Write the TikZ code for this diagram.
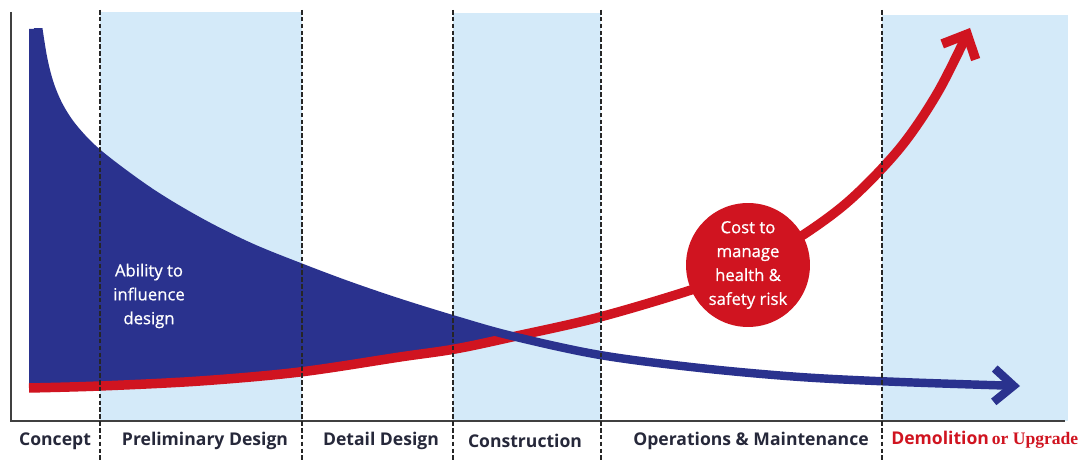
\documentclass[tikz,border=0pt]{standalone}
\usepackage{fontspec}
\setmainfont{Open Sans}
\newfontfamily\serifface{Liberation Serif}
\newfontfamily\semibold[FakeBold=0.7]{Open Sans}
\usetikzlibrary{arrows.meta}
\definecolor{navy}{RGB}{42,50,142}
\definecolor{riskred}{RGB}{208,20,32}
\definecolor{shade}{RGB}{212,234,249}
\definecolor{labelc}{RGB}{38,40,58}
\tikzset{
  phase/.style={fill=shade},
  divider/.style={black!85, line width=1.1pt, dash pattern=on 2.6pt off 1.3pt},
  axisline/.style={draw=black!75, line width=1.1pt},
  phaselabel/.style={font=\fontsize{10}{11}\selectfont\bfseries, text=labelc, anchor=center, inner sep=0pt},
  bluecurve/.style={navy, line width=4.8pt, -{Straight Barb[length=11pt, width=19pt]}},
  redcurve/.style={riskred, line width=5.4pt, -{Straight Barb[length=11pt, width=21pt]}},
  costbubble/.style={circle, fill=riskred, minimum size=2.48cm, inner sep=0pt, text=white, align=center,
    font=\semibold\fontsize{9.5}{13.6}\selectfont},
  abilitytext/.style={text=white, align=center, font=\semibold\fontsize{9.5}{13.6}\selectfont, inner sep=0pt}
}
\begin{document}
\begin{tikzpicture}[x=0.02cm, y=-0.02cm]
  \useasboundingbox (0,0) rectangle (1083,462);
  \fill[white] (0,0) rectangle (1083,462);
  % shaded phases
  \fill[phase] (100,12) rectangle (302,421);
  \fill[phase] (453,13) rectangle (601,421);
  \fill[phase] (882,15) rectangle (1068,421);
  % axes
  \coordinate (origin) at (11,421);
  \coordinate (ytop) at (11,12);
  \coordinate (xend) at (1065,421);
  \draw[axisline] (ytop) -- (origin) -- (xend);
  % blue filled area: ability to influence design
  \fill[navy] (29,29) -- (38,29) -- plot[smooth, tension=0.55] coordinates {(39,29) (43,58) (50,85) (60,108) (75,130) (100,155) (150,192) (200,222) (250,247) (302,268) (350,286) (400,303) (455,320) (512,336)}
    -- plot[smooth, tension=0.55] coordinates {(512,337) (455,349) (400,357) (300,372) (200,381) (100,386) (33,388)}
    -- (29,390) -- cycle;
  % red curve: cost to manage health & safety risk
  \draw[redcurve] plot[smooth, tension=0.55] coordinates {(29,388) (100,386) (200,381) (300,372) (400,357) (455,349) (512,337) (600,317) (700,287) (748,266) (800,237) (850,200) (900,148) (938,92) (970,28)};
  % blue curve
  \begin{scope}
    \clip (0,29) rectangle (1083,462);
    \draw[bluecurve] plot[smooth, tension=0.55] coordinates {(37,20) (43,58) (50,85) (60,108) (75,130) (100,155) (150,192) (200,222) (250,247) (302,268) (350,286) (400,303) (455,320) (512,336) (600,355) (700,368) (800,377) (900,382) (1020,386)};
  \end{scope}
  % dividers
  \foreach \xx/\nm in {100/d1, 302/d2, 453/d3, 601/d4, 882/d5}{
    \coordinate (\nm top) at (\xx,10);
    \coordinate (\nm bot) at (\xx,462);
    \draw[divider] (\nm top) -- (\nm bot);
  }
  % bubble
  \node[costbubble] (cost) at (748,265) {Cost to\\manage\\health \&\\safety risk};
  \node[abilitytext] (ability) at (149,296) {Ability to\\influence\\design};
  % phase labels
  \node[phaselabel] (concept) at (55,441) {Concept};
  \node[phaselabel] (prelim) at (205,441) {Preliminary Design};
  \node[phaselabel] (detail) at (381,441) {Detail Design};
  \node[phaselabel] (constr) at (525,441) {Construction};
  \node[phaselabel] (ops) at (751,441) {Operations \& Maintenance};
  \node[phaselabel, text=riskred, anchor=base west] (demol) at (891,445) {Demolition\,{\serifface\fontsize{10}{11}\selectfont or Upgrade}};
\end{tikzpicture}
\end{document}
